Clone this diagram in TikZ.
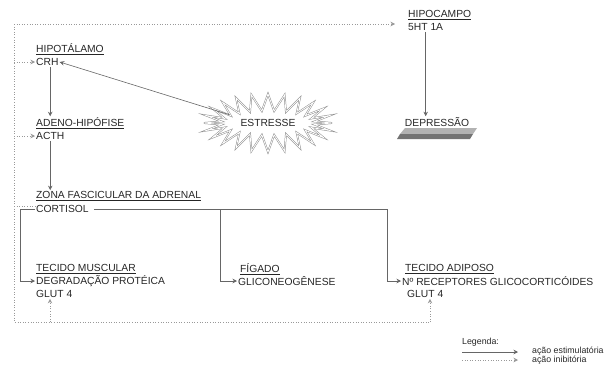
\documentclass[tikz,border=0pt]{standalone}
\usepackage{fontspec}
\setmainfont{Liberation Sans}
\usetikzlibrary{shapes.symbols,arrows.meta,positioning}

\begin{document}
\begin{tikzpicture}[
    x=1pt, y=-1pt,
    txt/.style={anchor=west, inner sep=1pt, font=\fontsize{10.3}{12}\selectfont, text=black!85},
    legtxt/.style={anchor=west, inner sep=1pt, font=\fontsize{8.8}{10}\selectfont, text=black!85},
    stim/.style={-{Stealth[length=4.5pt,width=4.5pt]}, black!60, line width=0.6pt},
    inhib/.style={-{Stealth[length=4.5pt,width=4.5pt]}, black!40, dotted, line width=0.6pt},
    wire/.style={black!60, line width=0.6pt},
    dotwire/.style={black!40, dotted, line width=0.6pt},
    burst/.style={starburst, starburst points=24, starburst point height=17pt, random starburst=0,
        draw=black!45, line width=0.5pt, double, double distance=0.8pt,
        minimum width=128pt, minimum height=58pt, inner sep=0pt, font=\fontsize{10.3}{12}\selectfont, text=black!85},
]
\useasboundingbox (0,0) rectangle (613,367);

    % Eixo HPA (left column)
    \node[txt] (hipot) at (35,49) {\underline{HIPOTÁLAMO}};
    \node[txt] (crh) at (35,62) {CRH};
    \node[txt] (adeno) at (35,123) {\underline{ADENO-HIPÓFISE}};
    \node[txt] (acth) at (35,136) {ACTH};
    \node[txt] (zona) at (35,196) {\underline{ZONA FASCICULAR DA ADRENAL}};
    \node[txt] (cort) at (35,209) {CORTISOL};

    % Hipocampo and depressao
    \node[txt] (hipoc) at (407,15) {\underline{HIPOCAMPO}};
    \node[txt] (ht) at (407,27) {5HT 1A};
    \fill[black!30] (405,128) -- (477,128) -- (473,134) -- (400,134) -- cycle;
    \fill[black!55] (400,134) -- (473,134) -- (470,139) -- (397,139) -- cycle;
    \node[txt, anchor=center] (depr) at (437,122) {DEPRESSÃO};

    % Stress
    \node[burst] (estr) at (268,123) {ESTRESSE};

    % Target tissues (bottom row)
    \node[txt] (musc) at (35,269) {\underline{TECIDO MUSCULAR}};
    \node[txt] (degr) at (35,281) {DEGRADAÇÃO PROTÉICA};
    \node[txt] (glutm) at (35,294) {GLUT 4};
    \node[txt] (figado) at (239,269) {\underline{FÍGADO}};
    \node[txt] (glic) at (237,281) {GLICONEOGÊNESE};
    \node[txt] (adip) at (404,269) {\underline{TECIDO ADIPOSO}};
    \node[txt] (recep) at (401,281) {Nº RECEPTORES GLICOCORTICÓIDES};
    \node[txt] (gluta) at (406,294) {GLUT 4};

    % Stimulatory arrows
    \draw[stim] (crh.south -| acth) -- (acth |- adeno.north);
    \draw[stim] (acth.south) -- (acth |- zona.north);
    \draw[stim] (estr.168) -- (crh.east);
    \draw[stim] (ht.south) -- (ht.south |- depr.north);

    % Cortisol branches
    \coordinate (jl) at (20,211);
    \coordinate (jm) at (220,209);
    \coordinate (jr) at (387,209);
    \draw[wire] ([xshift=4pt]cort.east) -- (jr);
    \draw[stim] (cort.west) -- (cort.west -| jl) |- (degr.west);
    \draw[stim] (jm) |- (glic.west);
    \draw[stim] (jr) |- (recep.west);

    % Inhibitory feedback loop
    \coordinate (lt) at (14,24);
    \coordinate (lb) at (14,322);
    \coordinate (lc) at (14,206);
    \coordinate (gm) at (50,322);
    \coordinate (ga) at (430,322);
    \draw[dotwire] (lt) -- (lb) -- (ga);
    \draw[inhib, shorten >=12pt] (lt) -- (lt -| ht.west);
    \draw[inhib] (lt |- crh) -- (crh.west);
    \draw[inhib] (lt |- acth) -- (acth.west);
    \draw[dotwire] (lc) -- (lc -| cort.west);
    \draw[inhib] (gm) -- (gm |- glutm.south);
    \draw[inhib] (ga) -- (ga |- gluta.south);

    % Legenda
    \node[legtxt] (leg) at (461,342) {Legenda:};
    \coordinate (ls1) at (462,352);
    \coordinate (ls2) at (462,360);
    \draw[stim] (ls1) -- ++(56,0);
    \draw[inhib] (ls2) -- ++(56,0);
    \node[legtxt] (lstim) at (531,351) {ação estimulatória};
    \node[legtxt] (linib) at (531,360) {ação inibitória};
\end{tikzpicture}
\end{document}
